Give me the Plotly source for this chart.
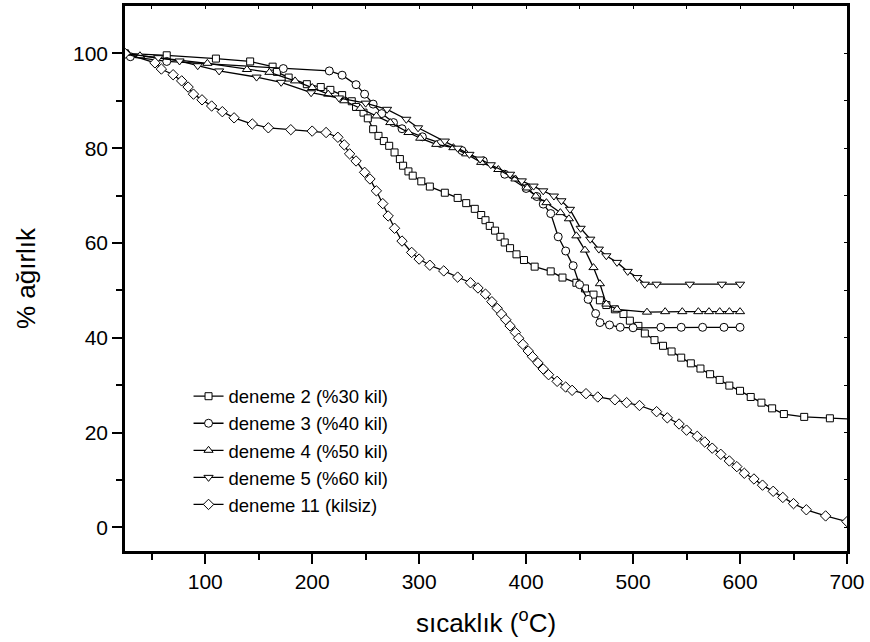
import plotly.graph_objects as go

# deneme 2 (%30 kil) - squares
x_d2 = [25, 64, 110, 142, 163, 167, 178, 195, 208, 217,
        228, 237, 241, 248, 252, 257, 262, 267, 272, 277,
        282, 285, 290, 294, 302, 310, 324, 336, 344, 352,
        358, 362, 366, 371, 376, 380, 385, 391, 398, 408,
        423, 434, 447, 455, 463, 469, 475, 483, 491, 497,
        505, 511, 520, 528, 536, 545, 554, 563, 572, 581,
        590, 600, 610, 620, 630, 641, 660, 684, 705]
y_d2 = [100, 99.6, 98.9, 98.3, 97.2, 96.1, 94.9, 93.5, 92.9, 92.3,
        91.2, 89.9, 88.7, 87.5, 86.3, 84.0, 82.6, 81.5, 80.5, 79.1,
        77.7, 76.3, 75.1, 74.2, 73.0, 71.9, 70.6, 69.5, 68.4, 67.2,
        65.9, 64.8, 63.6, 62.6, 61.3, 60.1, 58.9, 57.6, 56.4, 55.0,
        54.0, 52.7, 51.6, 50.4, 49.1, 47.9, 46.9, 46.0, 45.0, 43.6,
        42.5, 40.9, 39.5, 38.3, 37.1, 35.8, 34.6, 33.5, 32.3, 31.1,
        29.9, 28.8, 27.5, 26.3, 25.1, 23.9, 23.3, 23.0, 22.85]

# deneme 3 (%40 kil) - circles
x_d3 = [25, 30, 64, 173, 216, 228, 241, 249, 257, 265,
        276, 284, 303, 320, 340, 360, 380, 400, 410, 416,
        423, 430, 437, 444, 450, 458, 465, 469, 478, 488,
        500, 526, 545, 565, 585, 600]
y_d3 = [100, 99.3, 98.3, 96.8, 96.3, 95.4, 93.4, 91.4, 89.3, 87.3,
        85.4, 84.1, 82.4, 81.0, 79.5, 77.3, 74.5, 71.5, 69.8, 68.2,
        66.2, 61.3, 58.3, 55.2, 51.2, 48.1, 45.1, 43.2, 42.7, 42.2,
        42.1, 42.2, 42.2, 42.2, 42.2, 42.2]

# deneme 4 (%50 kil) - triangle up
x_d4 = [25, 39, 102, 139, 160, 184, 200, 215, 230, 245,
        260, 273, 290, 301, 316, 332, 344, 358, 374, 390,
        401, 409, 419, 432, 440, 447, 455, 463, 469, 475,
        485, 513, 530, 546, 561, 571, 581, 590, 600]
y_d4 = [100, 99.5, 97.9, 96.6, 96.0, 94.2, 92.8, 91.4, 90.0, 88.4,
        86.8, 85.4, 83.3, 82.1, 80.8, 80.1, 78.8, 77.0, 75.5, 73.5,
        71.6, 69.9, 68.5, 66.4, 65.1, 61.5, 58.5, 54.8, 51.4, 47.1,
        46.0, 45.4, 45.5, 45.5, 45.5, 45.5, 45.5, 45.5, 45.5]

# deneme 5 (%60 kil) - triangle down
x_d5 = [25, 56, 76, 93, 113, 148, 171, 199, 225, 250,
        270, 288, 299, 324, 336, 347, 357, 367, 385, 396,
        407, 416, 426, 433, 441, 451, 460, 468, 475, 485,
        495, 504, 511, 522, 553, 583, 600]
y_d5 = [100, 99.1, 98.4, 97.4, 96.3, 95.0, 93.9, 91.7, 90.6, 89.5,
        88.2, 86.1, 84.3, 81.5, 80.0, 78.7, 77.7, 76.5, 74.5, 73.1,
        72.0, 71.0, 69.9, 68.9, 67.1, 63.1, 60.8, 58.7, 57.3, 55.9,
        54.0, 52.7, 51.3, 51.3, 51.3, 51.3, 51.3]

# deneme 11 (kilsiz) - diamonds
x_d11 = [25, 53, 59, 70, 78, 84, 89, 97, 106, 116,
         127, 144, 159, 180, 200, 213, 224, 230, 235, 241,
         249, 254, 260, 266, 271, 277, 284, 293, 300, 310,
         323, 336, 348, 355, 362, 368, 373, 377, 381, 385,
         390, 393, 397, 402, 406, 411, 416, 421, 429, 437,
         443, 456, 467, 483, 494, 506, 522, 532, 543, 550,
         560, 567, 574, 582, 590, 597, 604, 613, 621, 631,
         640, 650, 662, 680, 700]
y_d11 = [100, 98.0, 96.7, 95.5, 94.2, 92.9, 91.4, 90.2, 88.9, 87.7,
         86.4, 85.1, 84.3, 83.9, 83.6, 83.3, 82.3, 80.7, 78.8, 77.3,
         74.9, 73.5, 71.0, 68.3, 65.7, 63.1, 60.4, 58.0, 56.6, 55.3,
         54.1, 52.8, 51.6, 50.5, 49.2, 47.6, 46.2, 45.0, 43.8, 42.5,
         41.1, 39.9, 38.6, 37.2, 36.0, 34.7, 33.4, 32.2, 30.8, 29.6,
         28.9, 28.2, 27.5, 26.9, 26.3, 25.7, 24.4, 23.1, 21.8, 20.5,
         19.2, 18.0, 16.7, 15.4, 14.0, 12.8, 11.4, 10.2, 8.9, 7.6,
         6.3, 5.0, 3.7, 2.4, 1.2]

series = [
    ("deneme 2 (%30 kil)", x_d2, y_d2, "square", 7),
    ("deneme 3 (%40 kil)", x_d3, y_d3, "circle", 8),
    ("deneme 4 (%50 kil)", x_d4, y_d4, "triangle-up", 8),
    ("deneme 5 (%60 kil)", x_d5, y_d5, "triangle-down", 8),
    ("deneme 11 (kilsiz)", x_d11, y_d11, "diamond", 8),
]

FONT = "Liberation Sans, Arial, sans-serif"
X_RANGE = [25, 700]
Y_RANGE = [-5, 110]

fig = go.Figure()
for i, (name, xs, ys, sym, sz) in enumerate(series):
    fig.add_trace(go.Scatter(
        x=xs, y=ys, name=name, mode="lines+markers",
        legendgroup=f"g{i}",
        line=dict(color="black", width=1.3),
        marker=dict(symbol=sym, size=sz, color="white",
                    line=dict(color="black", width=1)),
    ))

# invisible trace to carry mirrored inner-tick axes
fig.add_trace(go.Scatter(x=[X_RANGE[0]], y=[Y_RANGE[0]], xaxis="x2", yaxis="y2",
                         mode="markers", marker=dict(opacity=0), showlegend=False,
                         hoverinfo="skip"))

fig.update_layout(
    width=870, height=642,
    margin=dict(l=125, r=23, t=6, b=91),
    paper_bgcolor="white", plot_bgcolor="white",
    font=dict(family=FONT, color="black"),
    showlegend=True,
    legend=dict(x=0.088, y=0.318, xanchor="left", yanchor="top",
                font=dict(size=18.5, family=FONT), bgcolor="rgba(0,0,0,0)",
                tracegroupgap=0, borderwidth=0),
    xaxis=dict(range=X_RANGE, tickvals=[100, 200, 300, 400, 500, 600, 700],
               ticks="outside", ticklen=10, tickwidth=1.5, tickcolor="black",
               minor=dict(tickvals=[50, 150, 250, 350, 450, 550, 650],
                          ticks="outside", ticklen=6, tickwidth=1.5, tickcolor="black"),
               showline=True, linecolor="black", linewidth=2.5, mirror=True,
               showgrid=False, zeroline=False,
               tickfont=dict(size=21, family=FONT),
               title=dict(text="sıcaklık (<sup>o</sup>C)", font=dict(size=26, family=FONT),
                          standoff=22),
               automargin=False),
    yaxis=dict(range=Y_RANGE, tickvals=[0, 20, 40, 60, 80, 100],
               ticks="outside", ticklen=10, tickwidth=1.5, tickcolor="black",
               minor=dict(tickvals=[10, 30, 50, 70, 90],
                          ticks="outside", ticklen=6, tickwidth=1.5, tickcolor="black"),
               showline=True, linecolor="black", linewidth=2.5, mirror=True,
               showgrid=False, zeroline=False,
               tickfont=dict(size=21, family=FONT),
               title=dict(text="% ağırlık", font=dict(size=26, family=FONT),
                          standoff=30),
               automargin=False),
    xaxis2=dict(range=X_RANGE, overlaying="x", side="top", anchor="y2",
                tickvals=[50, 100, 150, 200, 250, 300, 350, 400, 450, 500, 550, 600, 650],
                ticks="inside", ticklen=3, tickwidth=1, tickcolor="black",
                showticklabels=False, showline=False, showgrid=False, zeroline=False),
    yaxis2=dict(range=Y_RANGE, overlaying="y", side="right", anchor="x2",
                tickvals=[0, 10, 20, 30, 40, 50, 60, 70, 80, 90, 100],
                ticks="inside", ticklen=3, tickwidth=1, tickcolor="black",
                showticklabels=False, showline=False, showgrid=False, zeroline=False),
)

fig.write_html("out.html")
